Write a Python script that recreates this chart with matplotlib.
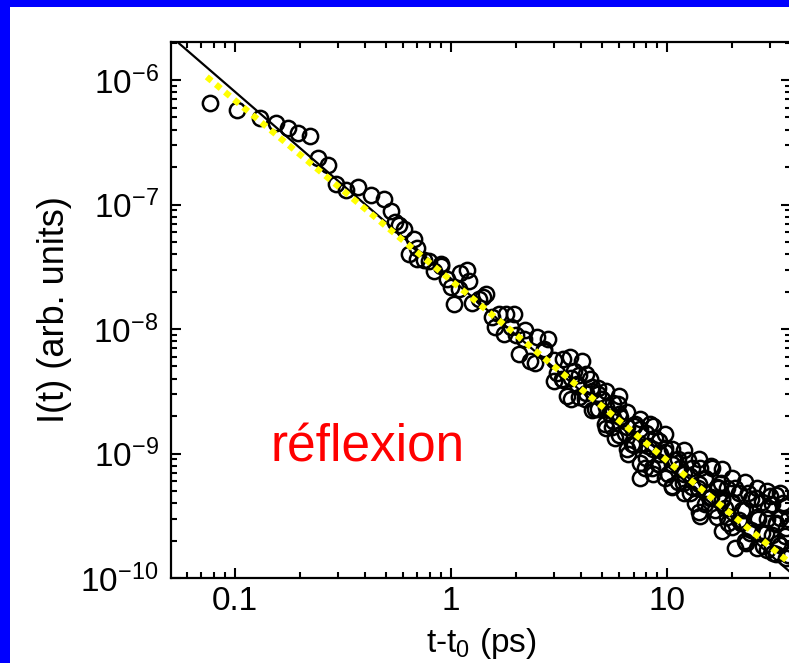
import numpy as np
import matplotlib.pyplot as plt
from matplotlib.patches import Rectangle
from matplotlib.ticker import FixedLocator, FuncFormatter, LogLocator, NullFormatter

plt.rcParams['font.family'] = ['Liberation Sans', 'DejaVu Sans']
plt.rcParams['mathtext.fontset'] = 'custom'
plt.rcParams['mathtext.rm'] = 'Liberation Sans'
plt.rcParams['mathtext.it'] = 'Liberation Sans:italic'

t_ps = [0.0765, 0.102, 0.131, 0.155, 0.177, 0.196, 0.223, 0.243, 0.271, 0.295,
        0.328, 0.373, 0.425, 0.488, 0.526, 0.573, 0.604, 0.638, 0.695, 0.748,
        0.834, 0.898, 1.19, 1.21, 1.03, 1.45, 1.35, 1.67, 1.96, 1.76,
        2.07, 2.31, 2.80, 1.90, 3.54, 4.03, 3.46, 4.38, 3.11, 3.85,
        4.78, 5.15, 5.73, 5.43, 7.49, 8.34, 7.90, 7.49, 9.27, 10.9,
        12.8, 14.2, 13.5, 14.2, 17.7, 20.7, 18.6, 21.9, 20.7, 25.7,
        30.1, 34.3, 28.6, 32.8, 35.4, 3.25, 3.73, 4.16, 4.62, 4.99,
        5.55, 6.04, 6.38, 6.88, 7.10, 8.16, 8.80, 9.08, 9.79, 10.1,
        11.5, 11.9, 12.5, 13.9, 15.0, 15.8, 16.2, 16.7, 18.0, 19.2,
        20.0, 22.3, 23.8, 24.3, 26.5, 27.7, 29.5, 31.8, 33.5, 35.4,
        30.8, 23.1, 17.3, 12.8, 10.5, 8.51, 6.59, 5.92, 4.48, 2.71,
        2.51, 2.19, 1.55, 1.09, 0.958, 0.79, 0.673,
        0.55, 0.7, 0.9, 1.0, 1.1, 1.25, 1.4, 1.6, 1.8, 2.0,
        2.2, 2.45, 2.7, 3.0, 3.0, 3.3, 3.3, 3.6, 3.6, 3.9,
        3.9, 4.2, 4.2, 4.5, 4.5, 4.8, 4.8, 5.2, 5.2, 5.2,
        5.6, 5.6, 6.0, 6.0, 6.0, 6.5, 6.5, 6.5, 7.0, 7.0,
        7.5, 7.5, 7.5, 8.0, 8.0, 8.6, 8.6, 8.6, 9.2, 9.2,
        9.8, 9.8, 9.8, 10.5, 10.5, 10.5, 11.2, 11.2, 12.0, 12.0,
        12.0, 13.0, 13.0, 14.0, 14.0, 14.0, 15.0, 15.0, 16.0, 16.0,
        17.0, 17.0, 18.0, 18.0, 18.0, 19.0, 19.0, 20.0, 20.0, 20.0,
        21.5, 21.5, 23.0, 23.0, 23.0, 24.5, 24.5, 26.0, 26.0, 26.0,
        27.5, 27.5, 29.0, 29.0, 29.0, 30.5, 30.5, 32.0, 32.0, 32.0,
        33.5, 33.5, 35.0, 35.0, 36.5, 36.5]
intensity = [6.55e-7, 5.75e-7, 4.97e-7, 4.53e-7, 4.13e-7, 3.77e-7, 3.56e-7, 2.38e-7, 2.09e-7, 1.45e-7,
             1.32e-7, 1.37e-7, 1.20e-7, 1.10e-7, 8.8e-8, 6.9e-8, 6.3e-8, 4.0e-8, 4.5e-8, 3.6e-8,
             2.9e-8, 3.3e-8, 3.0e-8, 2.42e-8, 1.58e-8, 1.9e-8, 1.74e-8, 1.32e-8, 1.32e-8, 9.1e-9,
             6.3e-9, 5.5e-9, 8.3e-9, 1.04e-8, 5.97e-9, 5.5e-9, 2.9e-9, 4.0e-9, 4.4e-9, 3.6e-9,
             3.0e-9, 1.74e-9, 1.32e-9, 2.09e-9, 1.58e-9, 1.74e-9, 7.6e-10, 6.3e-10, 1.0e-9, 8.8e-10,
             6.55e-10, 7.6e-10, 4.0e-10, 3.13e-10, 5.75e-10, 5.25e-10, 3.63e-10, 2.75e-10, 1.74e-10, 4.37e-10,
             4.53e-10, 4.0e-10, 2.29e-10, 1.9e-10, 1.45e-10, 4.0e-9, 4.6e-9, 2.75e-9, 2.29e-9, 2.75e-9,
             1.64e-9, 1.98e-9, 1.45e-9, 1.2e-9, 1.74e-9, 1.14e-9, 1.32e-9, 8.3e-10, 1.1e-9, 6.9e-10,
             7.6e-10, 5.75e-10, 8.8e-10, 5.25e-10, 6.3e-10, 4.37e-10, 7.6e-10, 3.5e-10, 4.37e-10, 2.75e-10,
             4.0e-10, 3.5e-10, 4.8e-10, 2.29e-10, 3.0e-10, 1.8e-10, 3.63e-10, 2.75e-10, 4.8e-10, 2.5e-10,
             1.58e-10, 1.9e-10, 5.25e-10, 4.8e-10, 5.45e-10, 7.6e-10, 1.0e-9, 2.5e-9, 3.44e-9, 6.9e-9,
             8.6e-9, 8.3e-9, 1.25e-8, 2.09e-8, 2.5e-8, 3.5e-8, 5.25e-8,
             7.3e-8, 3.66e-8, 3.2e-8, 2.19e-8, 2.8e-8, 1.62e-8, 1.82e-8, 1.04e-8, 1.32e-8, 9.0e-9,
             9.9e-9, 5.3e-9, 6.6e-9, 5.6e-9, 3.8e-9, 5.75e-9, 3.9e-9, 2.73e-9, 4.04e-9, 4.3e-9,
             2.85e-9, 3.08e-9, 4.35e-9, 2.22e-9, 3.2e-9, 3.35e-9, 2.26e-9, 2.37e-9, 1.6e-9, 3.2e-9,
             1.81e-9, 2.56e-9, 1.4e-9, 2.07e-9, 2.92e-9, 1.64e-9, 1.08e-9, 2.16e-9, 1.65e-9, 1.17e-9,
             1.19e-9, 1.88e-9, 8.4e-10, 1.46e-9, 9.2e-10, 1.09e-9, 1.66e-9, 6.9e-10, 1.25e-9, 8.2e-10,
             6.4e-10, 1.02e-9, 1.44e-9, 8.2e-10, 1.08e-9, 5.4e-10, 9.0e-10, 5.9e-10, 1.07e-9, 6.8e-10,
             4.8e-10, 7.6e-10, 5.4e-10, 9.0e-10, 5.7e-10, 3.4e-10, 6.2e-10, 3.9e-10, 7.9e-10, 4.5e-10,
             5.4e-10, 3.1e-10, 7.5e-10, 4.2e-10, 2.37e-10, 5.3e-10, 3.1e-10, 6.4e-10, 4.1e-10, 2.56e-10,
             4.8e-10, 2.9e-10, 5.9e-10, 3.5e-10, 2.0e-10, 4.3e-10, 2.41e-10, 5.3e-10, 3.1e-10, 1.75e-10,
             4.1e-10, 2.29e-10, 5.0e-10, 3.0e-10, 1.68e-10, 3.9e-10, 2.21e-10, 4.6e-10, 2.7e-10, 1.56e-10,
             3.05e-10, 1.84e-10, 3.8e-10, 2.17e-10, 3.0e-10, 1.52e-10]

# droites en loi de puissance (extrémités)
fit_black_t = [0.05, 40]
fit_black_i = [2.28e-6, 1.0e-10]
fit_yellow_t = [0.0741, 36.5]
fit_yellow_i = [1.06e-6, 1.35e-10]

xticks = [0.1, 1, 10]
xticklabels = ['0.1', '1', '10']
yticks = [1e-10, 1e-9, 1e-8, 1e-7, 1e-6]

fig = plt.figure(figsize=(7.89, 6.63), dpi=100)
fig.patch.set_facecolor('#0000ff')
fig.patches.append(Rectangle((10 / 789, 0), 1, 656 / 663, transform=fig.transFigure,
                             facecolor='white', edgecolor='none', zorder=-10))

ax = fig.add_axes([171 / 789, 85 / 663, 620 / 789, 536 / 663])
ax.set_facecolor('white')

ax.plot(t_ps, intensity, 'o', mfc='none', mec='black', ms=11, mew=1.8, zorder=2)
ax.plot(fit_black_t, fit_black_i, '-', color='black', lw=1.6, zorder=3)
ax.plot(fit_yellow_t, fit_yellow_i, color='#ffff00', lw=4.5, linestyle=(0, (1, 0.9)),
        solid_capstyle='butt', dash_capstyle='butt', zorder=4)

ax.set_xscale('log')
ax.set_yscale('log')
ax.set_xlim(0.0506, 37.5)
ax.set_ylim(1e-10, 2.02e-6)

ax.xaxis.set_major_locator(FixedLocator(xticks))
ax.xaxis.set_major_formatter(FuncFormatter(lambda v, p: xticklabels[xticks.index(v)] if v in xticks else ''))
ax.xaxis.set_minor_locator(LogLocator(base=10, subs=np.arange(2, 10)))
ax.xaxis.set_minor_formatter(NullFormatter())
ax.yaxis.set_major_locator(FixedLocator(yticks))
ax.yaxis.set_major_formatter(FuncFormatter(lambda v, p: r'$\mathregular{10^{%d}}$' % round(np.log10(v))))
ax.yaxis.set_minor_locator(LogLocator(base=10, subs=np.arange(2, 10)))
ax.yaxis.set_minor_formatter(NullFormatter())

ax.tick_params(which='both', direction='in', top=True, right=True, width=1.5, colors='black')
ax.tick_params(which='major', length=7)
ax.tick_params(which='minor', length=4)
ax.tick_params(axis='both', labelsize=24)
ax.tick_params(axis='y', pad=9)
ax.tick_params(axis='x', pad=6)
for s in ax.spines.values():
    s.set_linewidth(1.6)

ax.set_xlabel('t-t$_0$ (ps)', fontsize=24, labelpad=6)
ax.set_ylabel('I(t) (arb. units)', fontsize=26, labelpad=6)

fig.text(270 / 789, (663 - 461) / 663, 'réflexion', color='#ff0000', fontsize=37,
         ha='left', va='baseline')

fig.savefig('out.png', dpi=100, facecolor=fig.get_facecolor())
